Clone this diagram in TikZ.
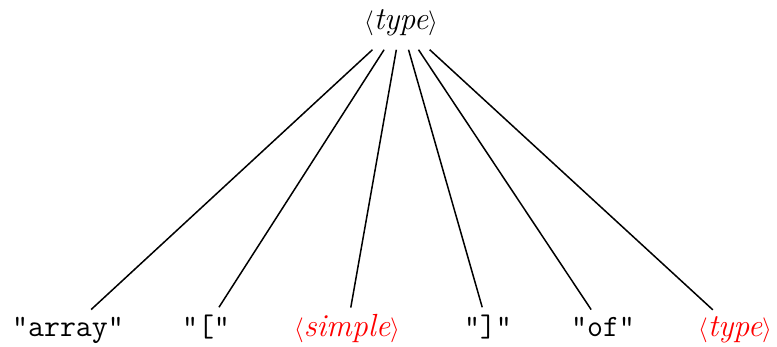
\documentclass[tikz,border=0pt]{standalone}
\usepackage{fontspec}
\begin{document}
\begin{tikzpicture}[x=1pt,y=-1pt,
  nt/.style={font=\fontsize{32}{38}\selectfont\itshape, inner sep=7pt, anchor=base},
  term/.style={font=\fontsize{31}{37}\selectfont\ttfamily, inner sep=8pt, anchor=base},
  ntred/.style={nt, text=red},
  link/.style={line width=1.5pt, draw=black}]
\useasboundingbox (0,0) rectangle (777,347);
\node[nt, inner ysep=13pt] (root) at (401,30) {$\langle$type$\rangle$};
\node[term] (array) at (68,337) {"array"};
\node[term] (lbr) at (206,337) {"["};
\node[ntred] (simple) at (347,337) {$\langle$simple$\rangle$};
\node[term] (rbr) at (488,337) {"]"};
\node[term] (of) at (603,337) {"of"};
\node[ntred] (type2) at (735,337) {$\langle$type$\rangle$};
\foreach \c in {array,lbr,simple,rbr,of,type2}
  \draw[link] (root) -- (\c);
\end{tikzpicture}
\end{document}
